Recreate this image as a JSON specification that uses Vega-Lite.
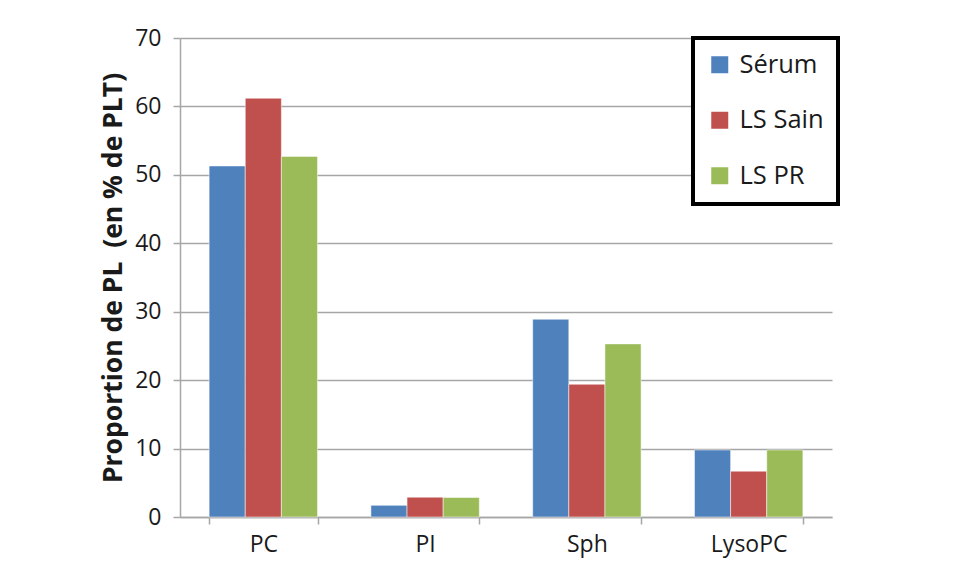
{
  "$schema": "https://vega.github.io/schema/vega-lite/v6.json",
  "width": 652,
  "height": 479,
  "autosize": "none",
  "padding": {"left": 180, "top": 38, "right": 124, "bottom": 62},
  "background": "white",
  "data": {
    "values": [
      {"cat": "PC", "series": "Sérum", "value": 51.3},
      {"cat": "PC", "series": "LS Sain", "value": 61.2},
      {"cat": "PC", "series": "LS PR", "value": 52.7},
      {"cat": "PI", "series": "Sérum", "value": 1.7},
      {"cat": "PI", "series": "LS Sain", "value": 2.9},
      {"cat": "PI", "series": "LS PR", "value": 2.85},
      {"cat": "Sph", "series": "Sérum", "value": 28.9},
      {"cat": "Sph", "series": "LS Sain", "value": 19.4},
      {"cat": "Sph", "series": "LS PR", "value": 25.3},
      {"cat": "LysoPC", "series": "Sérum", "value": 9.8},
      {"cat": "LysoPC", "series": "LS Sain", "value": 6.7},
      {"cat": "LysoPC", "series": "LS PR", "value": 9.8}
    ]
  },
  "mark": {"type": "bar", "stroke": "#ffffff", "strokeWidth": 1, "strokeOpacity": 0.5},
  "encoding": {
    "x": {
      "field": "cat",
      "type": "nominal",
      "sort": ["PC", "PI", "Sph", "LysoPC"],
      "scale": {"paddingInner": 0.33, "paddingOuter": 0.18},
      "axis": {
        "title": null,
        "labelAngle": 0,
        "tickBand": "extent",
        "tickSize": 7,
        "tickColor": "#a6a6a6",
        "tickWidth": 1.5,
        "domainColor": "#a6a6a6",
        "domainWidth": 1.5,
        "labelFont": "Open Sans",
        "labelFontSize": 23,
        "labelColor": "#1a1a1a",
        "labelPadding": 9
      }
    },
    "xOffset": {
      "field": "series",
      "type": "nominal",
      "sort": ["Sérum", "LS Sain", "LS PR"],
      "scale": {"paddingInner": 0, "paddingOuter": 0}
    },
    "y": {
      "field": "value",
      "type": "quantitative",
      "scale": {"domain": [0, 70]},
      "axis": {
        "title": "Proportion de PL\u00a0 (en % de PLT)",
        "values": [0, 10, 20, 30, 40, 50, 60, 70],
        "grid": true,
        "gridColor": "#a6a6a6",
        "gridWidth": 1.5,
        "tickSize": 7,
        "tickColor": "#a6a6a6",
        "tickWidth": 1.5,
        "domainColor": "#a6a6a6",
        "domainWidth": 1.5,
        "labelFont": "Open Sans",
        "labelFontSize": 23,
        "labelColor": "#1a1a1a",
        "labelPadding": 12,
        "titleFont": "Open Sans",
        "titleFontSize": 26.5,
        "titleFontWeight": "bold",
        "titleColor": "#1a1a1a",
        "titlePadding": 7
      }
    },
    "color": {
      "field": "series",
      "type": "nominal",
      "sort": ["Sérum", "LS Sain", "LS PR"],
      "scale": {"domain": ["Sérum", "LS Sain", "LS PR"], "range": ["#4F81BD", "#C0504D", "#9BBB59"]},
      "legend": {
        "title": null,
        "orient": "none",
        "legendX": 513,
        "legendY": 0,
        "symbolType": "square",
        "symbolSize": 289,
        "symbolStrokeWidth": 0,
        "symbolOpacity": 1,
        "labelFont": "Open Sans",
        "labelFontSize": 25.5,
        "labelColor": "#1a1a1a",
        "labelOffset": 7,
        "rowPadding": 28.5,
        "padding": 14,
        "strokeColor": "#000000",
        "fillColor": "#ffffff"
      }
    }
  },
  "config": {"view": {"stroke": null}, "legend": {"strokeWidth": 4}}
}
